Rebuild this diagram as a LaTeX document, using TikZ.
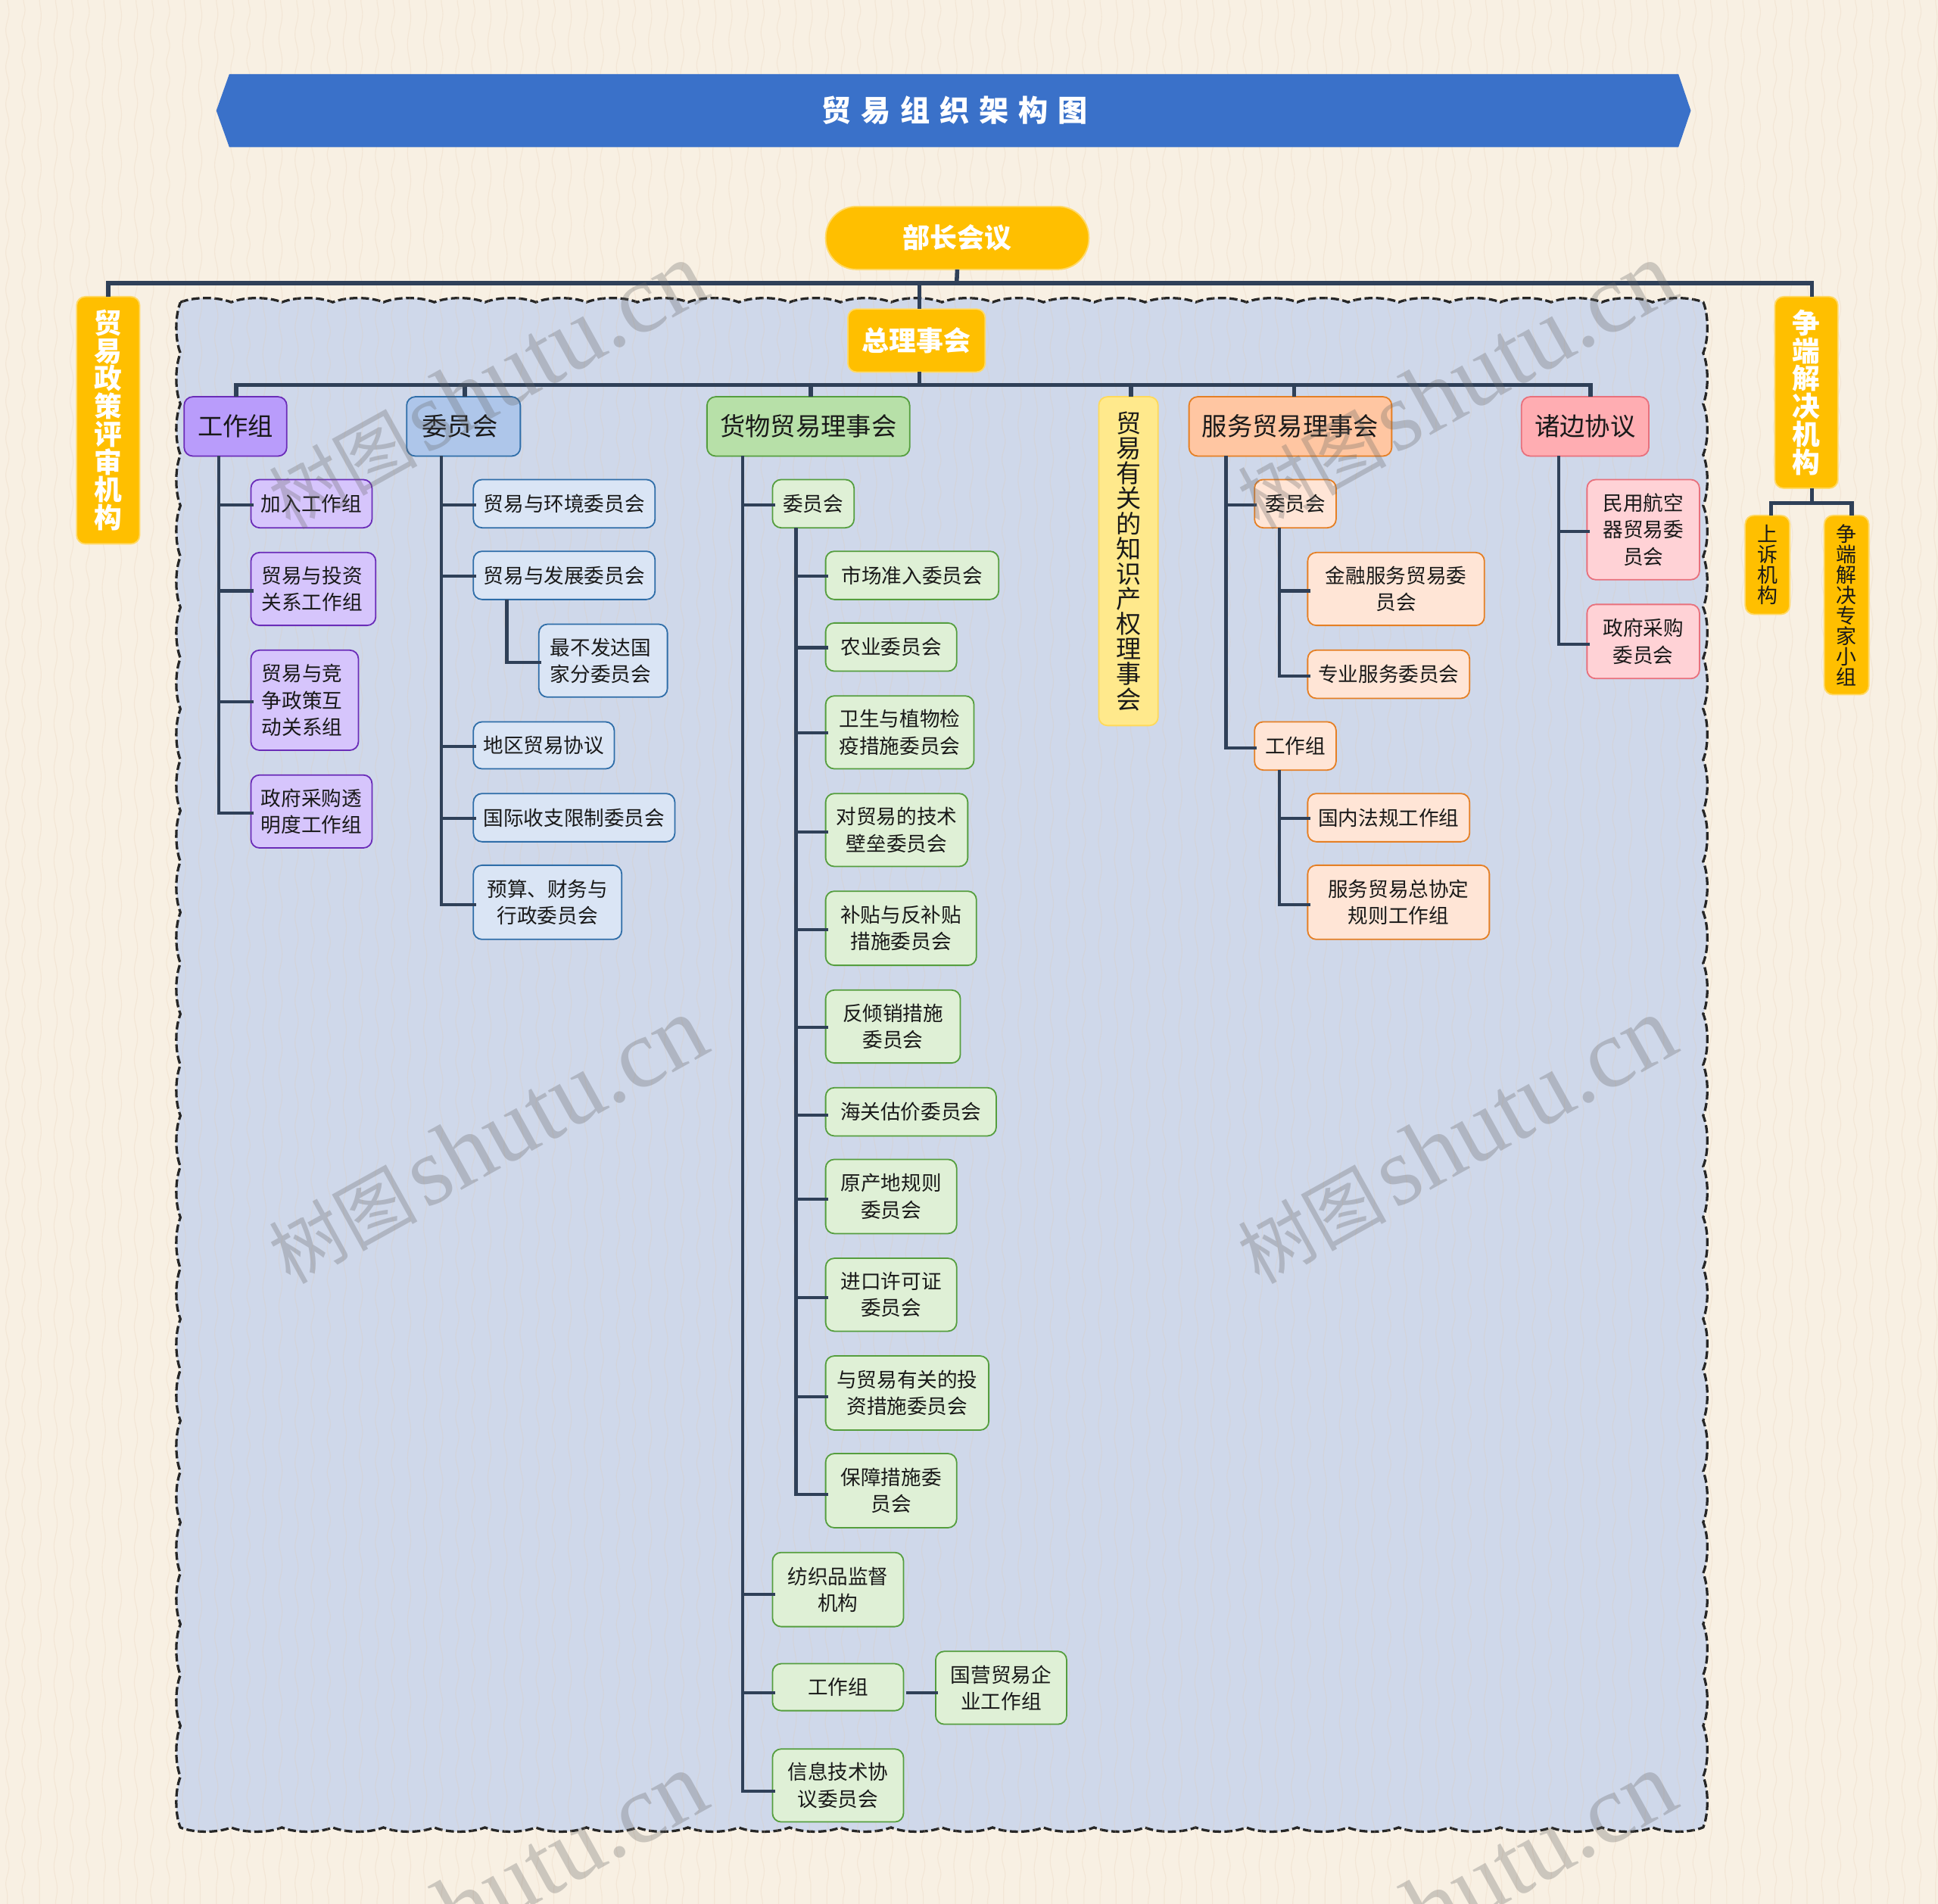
\documentclass[tikz,border=0pt]{standalone}
\usepackage{fontspec}
\setmainfont{Noto Sans CJK SC}
\newfontfamily\wmserif{Liberation Serif}
\usetikzlibrary{decorations.pathmorphing}
\definecolor{bgcol}{HTML}{F8F0E3}
\definecolor{regioncol}{HTML}{CFD8EA}
\definecolor{linecol}{HTML}{2F4058}
\definecolor{goldcol}{HTML}{FFBF00}
\definecolor{goldline}{HTML}{FFD966}
\definecolor{titlecol}{HTML}{3A71C9}
\newcommand{\bx}[7]{%
  \pgfmathsetmacro\bxcx{(#3+#5)/2}\pgfmathsetmacro\bxcy{(#4+#6)/2}%
  \node[#1,minimum width={(#5-#3)*1pt},minimum height={(#6-#4)*1pt}] (#2) at (\bxcx,\bxcy) {#7};}
\newcommand{\lnk}[4]{\draw[conn] (#1.south -| #2,0) |- ([xshift=2pt]#3.west |- 0,#4);}
\newcommand{\lft}[1]{\hspace*{-#1pt}}
\newcommand{\wmtext}{{\fontsize{60}{76}\selectfont 树图}\hspace{6pt}{\wmserif\fontsize{79}{80}\selectfont shutu.cn}}
\tikzset{
  base/.style={draw,rounded corners=7pt,line width=1.1pt,inner sep=0pt,outer sep=0pt,align=center,text=black!90,
    font=\fontsize{16.3}{21.6}\selectfont},
  big/.style={base,font=\fontsize{20.4}{24}\selectfont},
  vbig/.style={base,font=\fontsize{20.3}{20.3}\selectfont},
  vsmall/.style={base,draw=goldline,fill=goldcol,font=\fontsize{16.5}{16.5}\selectfont},
  gold/.style={base,draw=goldline,fill=goldcol,text=white,font=\bfseries\fontsize{22}{24}\selectfont},
  goldv/.style={gold,font=\bfseries\fontsize{22.5}{22.5}\selectfont},
  pA/.style={big,fill=purpA,draw=purpB},
  pB/.style={base,fill=purpC,draw=purpB},
  bA/.style={big,fill=bluA,draw=bluB},
  bB/.style={base,fill=bluC,draw=bluB},
  gA/.style={big,fill=greA,draw=greB},
  gB/.style={base,fill=greC,draw=greB},
  oA/.style={big,fill=oraA,draw=oraB},
  oB/.style={base,fill=oraC,draw=oraB},
  rA/.style={big,fill=redA,draw=redB},
  rB/.style={base,fill=redC,draw=redB},
  conn/.style={draw=linecol,line width=2.6pt,line join=miter},
  bus/.style={conn,line width=3.4pt},
  wmark/.style={rotate=29,text=black!60,opacity=.3,inner sep=0pt},
  texline/.style={draw=brown!45!white,opacity=.22,line width=.7pt,decorate},
}
\definecolor{purpA}{HTML}{B99CFB}\definecolor{purpB}{HTML}{6A2CB8}\definecolor{purpC}{HTML}{D6C5FC}
\definecolor{bluA}{HTML}{AEC6EA}\definecolor{bluB}{HTML}{2E6DA8}\definecolor{bluC}{HTML}{DAE5F5}
\definecolor{greA}{HTML}{B7E0A8}\definecolor{greB}{HTML}{559E3E}\definecolor{greC}{HTML}{DFF0D6}
\definecolor{oraA}{HTML}{FFC6A2}\definecolor{oraB}{HTML}{E57F24}\definecolor{oraC}{HTML}{FFE5D6}
\definecolor{redA}{HTML}{FFADB2}\definecolor{redB}{HTML}{E8707C}\definecolor{redC}{HTML}{FFD2D6}
\definecolor{yelA}{HTML}{FFE98C}\definecolor{yelB}{HTML}{FFD95A}
\begin{document}
\begin{tikzpicture}[x=1pt,y=-1pt]
\useasboundingbox (0,0) rectangle (1568,1540.4);
\fill[bgcol] (0,0) rectangle (1568,1540.4);
% dashed scalloped region
\path[fill=regioncol,draw=black!85,line width=2pt,dash pattern=on 6.5pt off 2.8pt]
  (146,244.5)
  \foreach \i [evaluate=\i as \a using 146+\i*41.07, evaluate=\i as \b using 146+(\i+1)*41.07] in {0,...,29}
    { .. controls (\a+11,240) and (\b-11,240) .. (\b,244.5) }
  \foreach \i [evaluate=\i as \a using 244.5+\i*41.13, evaluate=\i as \b using 244.5+(\i+1)*41.13] in {0,...,29}
    { .. controls (1382.5,\a+11) and (1382.5,\b-11) .. (1378,\b) }
  \foreach \i [evaluate=\i as \a using 1378-\i*41.07, evaluate=\i as \b using 1378-(\i+1)*41.07] in {0,...,29}
    { .. controls (\a-11,1483) and (\b+11,1483) .. (\b,1478.5) }
  \foreach \i [evaluate=\i as \a using 1478.5-\i*41.13, evaluate=\i as \b using 1478.5-(\i+1)*41.13] in {0,...,29}
    { .. controls (141.5,\a-11) and (141.5,\b+11) .. (146,\b) }
  -- cycle;
% faint paper texture
\foreach \x [evaluate=\x as \al using {26+mod(\x*7,19)}, evaluate=\x as \am using {0.8+mod(\x*3,13)/10}] in {6,19,...,1568}
  \draw[texline,decoration={snake,segment length=\al pt,amplitude=\am pt}] (\x,0) -- (\x,1540.4);
% title
\fill[titlecol] (175,89.5) -- (185.5,60) -- (1358,60) -- (1368,89.5) -- (1358,119) -- (185.5,119) -- cycle;
\node[text=white,inner sep=0pt,font=\bfseries\fontsize{24}{26}\selectfont] (title) at (772.5,89.5)
  {贸\hspace{7.8pt}易\hspace{7.8pt}组\hspace{7.8pt}织\hspace{7.8pt}架\hspace{7.8pt}构\hspace{7.8pt}图};
% top level
\bx{gold,rounded corners=25pt}{minister}{668}{167}{881}{218}{部长会议}
\bx{gold}{council}{686}{250}{797}{301}{总理事会}
\bx{goldv}{review}{62}{240}{113}{440}{贸\\易\\政\\策\\评\\审\\机\\构}
\bx{goldv}{dispute}{1436}{240}{1487}{395}{争\\端\\解\\决\\机\\构}
\bx{vsmall}{appeal}{1412}{417}{1448}{497}{上\\诉\\机\\构}
\bx{vsmall}{panel}{1476}{417}{1512}{562}{争\\端\\解\\决\\专\\家\\小\\组}
% second level
\bx{pA}{wg}{149}{321}{232}{369}{工作组}
\bx{bA}{cm}{329}{321}{421}{369}{\lft{6}委员会}
\bx{gA}{goods}{572}{321}{736}{369}{货物贸易理事会}
\bx{vbig,fill=yelA,draw=yelB}{trips}{889}{321}{937}{587}{贸\\易\\有\\关\\的\\知\\识\\产\\权\\理\\事\\会}
\bx{oA}{serv}{962}{321}{1126}{369}{服务贸易理事会}
\bx{rA}{pluri}{1231}{321}{1334}{369}{诸边协议}
% working groups
\bx{pB}{wga}{203}{388}{301}{427}{加入工作组}
\bx{pB}{wgb}{203}{447}{304}{506}{\lft{2}贸易与投资\\\lft{2}关系工作组}
\bx{pB}{wgc}{203}{526}{290}{607}{\lft{4}贸易与竞\\\lft{4}争政策互\\\lft{4}动关系组}
\bx{pB}{wgd}{203}{627}{301}{686}{政府采购透\\明度工作组}
% committees
\bx{bB}{cma}{383}{388}{530}{427}{贸易与环境委员会}
\bx{bB}{cmb}{383}{446}{530}{485}{贸易与发展委员会}
\bx{bB}{cmc}{436}{505}{540}{564}{\lft{4}最不发达国\\\lft{4}家分委员会}
\bx{bB}{cmd}{383}{584}{497}{622}{地区贸易协议}
\bx{bB}{cme}{383}{642}{546}{681}{国际收支限制委员会}
\bx{bB}{cmf}{383}{700}{503}{760}{预算、财务与\\行政委员会}
% goods
\bx{gB}{ga}{625}{388}{691}{427}{委员会}
\bx{gB}{gaa}{668}{446}{808}{485}{市场准入委员会}
\bx{gB}{gab}{668}{504}{774}{543}{农业委员会}
\bx{gB}{gac}{668}{563}{788}{622}{卫生与植物检\\疫措施委员会}
\bx{gB}{gad}{668}{642}{783}{701}{对贸易的技术\\壁垒委员会}
\bx{gB}{gae}{668}{721}{790}{781}{补贴与反补贴\\措施委员会}
\bx{gB}{gaf}{668}{801}{777}{860}{反倾销措施\\委员会}
\bx{gB}{gag}{668}{880}{806}{919}{海关估价委员会}
\bx{gB}{gah}{668}{938}{774}{998}{原产地规则\\委员会}
\bx{gB}{gai}{668}{1018}{774}{1077}{进口许可证\\委员会}
\bx{gB}{gaj}{668}{1097}{800}{1157}{与贸易有关的投\\资措施委员会}
\bx{gB}{gak}{668}{1176}{774}{1236}{保障措施委\\员会}
\bx{gB}{gb}{625}{1256}{731}{1316}{纺织品监督\\机构}
\bx{gB}{gc}{625}{1346}{731}{1384}{工作组}
\bx{gB}{gca}{757}{1336}{863}{1395}{国营贸易企\\业工作组}
\bx{gB}{gd}{625}{1415}{731}{1474}{信息技术协\\议委员会}
% services
\bx{oB}{sa}{1015}{388}{1081}{427}{委员会}
\bx{oB}{saa}{1058}{447}{1201}{506}{金融服务贸易委\\员会}
\bx{oB}{sab}{1058}{526}{1189}{565}{专业服务委员会}
\bx{oB}{sb}{1015}{584}{1081}{623}{工作组}
\bx{oB}{sba}{1058}{642}{1189}{681}{国内法规工作组}
\bx{oB}{sbb}{1058}{700}{1205}{760}{服务贸易总协定\\规则工作组}
% plurilateral
\bx{rB}{pa}{1284}{388}{1375}{469}{民用航空\\器贸易委\\员会}
\bx{rB}{pb}{1284}{489}{1375}{549}{政府采购\\委员会}
% connectors: top
\coordinate (busA) at (774,229);
\coordinate (busR) at (1466,229);
\coordinate (busT) at (744,229);
\draw[bus] (minister.south) -- (busA);
\draw[bus] (review.north) |- (busR) -- (busR |- dispute.north);
\draw[bus] (busT) -- (busT |- council.north);
\coordinate (busB) at (744,311.5);
\coordinate (busBL) at (191,311.5);
\coordinate (busBR) at (1287,311.5);
\draw[bus] (busB |- council.south) -- (busB);
\draw[bus] (busBL |- wg.north) -- (busBL) -- (busBR) -- (busBR |- pluri.north);
\draw[bus] (376,311.5) -- (cm.north -| 376,0);
\draw[bus] (656,311.5) -- (goods.north -| 656,0);
\draw[bus] (915,311.5) -- (trips.north -| 915,0);
\draw[bus] (1047,311.5) -- (serv.north -| 1047,0);
\coordinate (busC) at (1466,407);
\draw[bus] (busC |- dispute.south) -- (busC);
\draw[bus] (appeal.north -| 1433,0) |- (1498,407) -- (panel.north -| 1498,0);
% connectors: children
\lnk{wg}{177}{wga}{408.5}\lnk{wg}{177}{wgb}{478}\lnk{wg}{177}{wgc}{568}\lnk{wg}{177}{wgd}{658}
\lnk{cm}{357}{cma}{408.5}\lnk{cm}{357}{cmb}{466}\lnk{cm}{357}{cmd}{604}\lnk{cm}{357}{cme}{662}\lnk{cm}{357}{cmf}{732}
\lnk{cmb}{410}{cmc}{536}
\lnk{goods}{601}{ga}{408.5}\lnk{goods}{601}{gb}{1290}\lnk{goods}{601}{gc}{1369.5}\lnk{goods}{601}{gd}{1449}
\lnk{ga}{644}{gaa}{466}\lnk{ga}{644}{gab}{524}\lnk{ga}{644}{gac}{593}\lnk{ga}{644}{gad}{673}
\lnk{ga}{644}{gae}{752}\lnk{ga}{644}{gaf}{831}\lnk{ga}{644}{gag}{902}\lnk{ga}{644}{gah}{970}
\lnk{ga}{644}{gai}{1050}\lnk{ga}{644}{gaj}{1130}\lnk{ga}{644}{gak}{1209}
\draw[conn] ([xshift=2pt]gc.east |- 0,1369.5) -- ([xshift=2pt]gca.west |- 0,1369.5);
\lnk{serv}{992}{sa}{408.5}\lnk{serv}{992}{sb}{605}
\lnk{sa}{1035}{saa}{478}\lnk{sa}{1035}{sab}{547}
\lnk{sb}{1035}{sba}{662}\lnk{sb}{1035}{sbb}{732}
\lnk{pluri}{1261}{pa}{430}\lnk{pluri}{1261}{pb}{521}
% watermarks
\begin{scope}
\clip (0,0) rectangle (1568,1540.4);
\node[wmark] (wma) at (394,312) {\wmtext};
\node[wmark] (wmb) at (1178,312) {\wmtext};
\node[wmark] (wmc) at (394,923) {\wmtext};
\node[wmark] (wmd) at (1178,923) {\wmtext};
\node[wmark] (wme) at (394,1534) {\wmtext};
\node[wmark] (wmf) at (1178,1534) {\wmtext};
\end{scope}
\end{tikzpicture}
\end{document}
